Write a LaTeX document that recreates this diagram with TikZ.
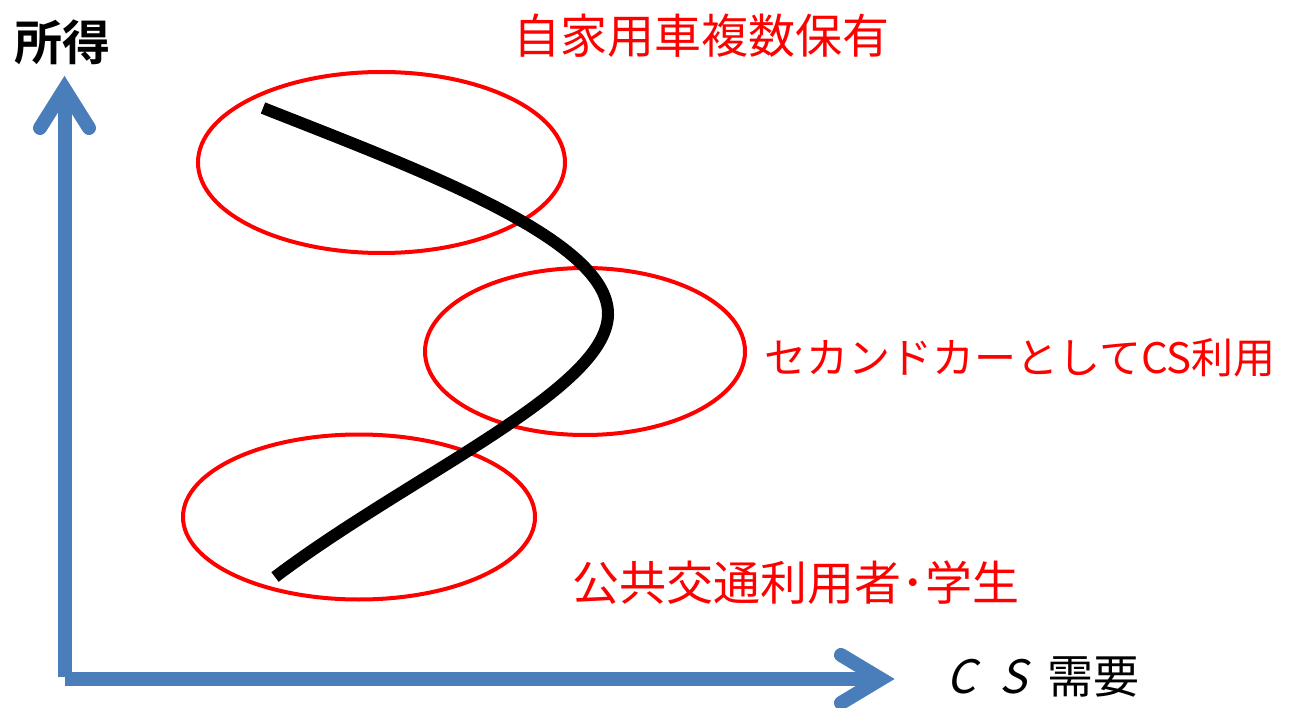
\documentclass[tikz,border=0pt]{standalone}
\usepackage{fontspec}
\newfontfamily\jp{Noto Sans CJK JP}
\newfontfamily\jpb{Noto Sans CJK JP Bold}
\newfontfamily\jpsl[FakeSlant=0.25]{Noto Sans CJK JP}
\definecolor{axisblue}{HTML}{4A7EBB}
\definecolor{pred}{HTML}{FF0000}
\begin{document}
\begin{tikzpicture}[x=1pt,y=-1pt,
  axis/.style={draw=axisblue,line width=14pt},
  head/.style={axis,line cap=round,line join=miter},
  oval/.style={draw=pred,line width=4pt},
  curve/.style={draw=black,line width=12pt},
  redlabel/.style={text=pred,inner sep=0pt,anchor=center},
  blacklabel/.style={text=black,inner sep=0pt,anchor=center}]
\useasboundingbox (0,0) rectangle (1293,708);
% axes
\coordinate (origin) at (64.5,677);
\coordinate (ytip) at (64.5,89);
\coordinate (xstart) at (65,679);
\coordinate (xtip) at (881,679);
\coordinate (yl) at (40,128);
\coordinate (yr) at (89,128);
\coordinate (xu) at (841,655);
\coordinate (xd) at (841,703);
\draw[axis] (origin) -- (ytip);
\draw[axis] (xstart) -- (xtip);
\draw[head] (yl) -- (ytip) -- (yr);
\draw[head] (xu) -- (xtip) -- (xd);
% ellipses
\coordinate (e1) at (381.5,162.5);
\coordinate (e2) at (585,351.5);
\coordinate (e3) at (359,517);
\draw[oval] (e1) ellipse [x radius=183.5, y radius=90.5];
\draw[oval] (e2) ellipse [x radius=160, y radius=83.5];
\draw[oval] (e3) ellipse [x radius=176, y radius=82.5];
% curve
\coordinate (cs) at (263,108);
\coordinate (cm) at (608,315);
\coordinate (ce) at (275,577);
\draw[curve] (cs) .. controls (420,170) and (610,240) .. (cm)
  .. controls (606,390) and (410,475) .. (ce);
% labels
\node[blacklabel] (inc) at (62,42) {\jpb\fontsize{48}{48}\selectfont 所得};
\node[blacklabel] (dem) at (1043,677) {\fontsize{46}{46}\selectfont{\jpsl C}\hspace{24pt}{\jpsl S}\hspace{20pt}{\jp 需要}};
\node[redlabel] (t1) at (701,36) {\jp\fontsize{47}{47}\selectfont 自家用車複数保有};
\node[redlabel] (t2) at (1020,358) {\jp\fontsize{42}{42}\selectfont セカンドカーとしてCS利用};
\node[redlabel] (t3) at (796,583) {\jp\fontsize{47}{47}\selectfont 公共交通利用者･学生};
\end{tikzpicture}
\end{document}
